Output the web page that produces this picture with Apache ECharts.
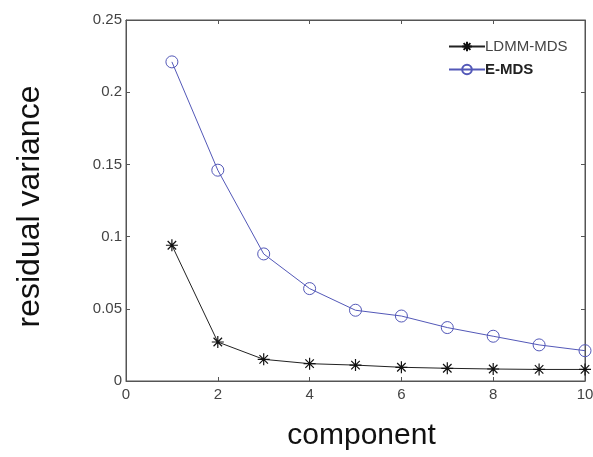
<!DOCTYPE html>
<html>
<head>
<meta charset="utf-8">
<script src="https://cdn.jsdelivr.net/npm/echarts@6/dist/echarts.min.js"></script>
<style>
  html, body { margin: 0; padding: 0; background: #fff; }
  #chart { width: 593px; height: 457px; }
</style>
</head>
<body>
<div id="chart"></div>
<script>
// Residual variance per number of components
const components = [1, 2, 3, 4, 5, 6, 7, 8, 9, 10];
const ldmmMds = [0.094, 0.027, 0.015, 0.012, 0.011, 0.0095, 0.0088, 0.0083, 0.008, 0.008];
const eMds = [0.221, 0.146, 0.088, 0.064, 0.049, 0.045, 0.037, 0.031, 0.025, 0.021];
const xTicks = [0, 2, 4, 6, 8, 10];
const yTicks = [0, 0.05, 0.1, 0.15, 0.2, 0.25];

const FONT = '"Liberation Sans", Arial, Helvetica, sans-serif';
const FRAME = '#555';
const asterisk = 'path://M0,-5L0,5M-5,0L5,0M-3.54,-3.54L3.54,3.54M-3.54,3.54L3.54,-3.54';

const pairs = (ys) => components.map((c, i) => [c, ys[i]]);

const chart = echarts.init(document.getElementById('chart'), null, { renderer: 'canvas' });

const baseAxis = {
  type: 'value',
  axisLine: { show: true, onZero: false, lineStyle: { color: FRAME, width: 1 } },
  axisTick: { show: true, inside: true, length: 4, lineStyle: { color: FRAME } },
  splitLine: { show: false },
};
const xRange = { min: xTicks[0], max: xTicks[xTicks.length - 1], interval: xTicks[1] - xTicks[0] };
const yRange = { min: yTicks[0], max: yTicks[yTicks.length - 1], interval: yTicks[1] - yTicks[0] };

chart.setOption({
  backgroundColor: '#fff',
  animation: false,
  grid: {
    left: 126, right: 8, top: 20, bottom: 76,
    containLabel: false,
    outerBoundsMode: 'none',
    show: true, borderColor: FRAME, borderWidth: 1,
  },
  legend: {
    orient: 'vertical',
    left: 443,
    top: 34,
    itemWidth: 36,
    itemHeight: 12,
    itemGap: 8,
    formatter: (name) => name === 'E-MDS' ? '{b|' + name + '}' : '{n|' + name + '}',
    textStyle: {
      fontFamily: FONT,
      fontSize: 15,
      padding: [0, 0, 0, -5],
      rich: {
        n: { fontFamily: FONT, fontSize: 15, color: '#444' },
        b: { fontFamily: FONT, fontSize: 15, color: '#222', fontWeight: 'bold' },
      },
    },
    data: ['LDMM-MDS', 'E-MDS'],
  },
  xAxis: [
    Object.assign({}, baseAxis, xRange, {
      position: 'bottom',
      name: 'component',
      nameLocation: 'middle',
      nameGap: 40,
      nameTextStyle: { fontFamily: FONT, fontSize: 30, color: '#111', padding: [0, 0, 0, 12] },
      axisLabel: { fontFamily: FONT, fontSize: 15, color: '#444', margin: 6 },
    }),
    Object.assign({}, baseAxis, xRange, {
      position: 'top',
      axisLabel: { show: false },
    }),
  ],
  yAxis: [
    Object.assign({}, baseAxis, yRange, {
      position: 'left',
      name: 'residual variance',
      nameLocation: 'middle',
      nameGap: 80,
      nameTextStyle: { fontFamily: FONT, fontSize: 32, color: '#111', padding: [0, 12, 0, 0] },
      axisLabel: { fontFamily: FONT, fontSize: 15, color: '#444', margin: 4 },
    }),
    Object.assign({}, baseAxis, yRange, {
      position: 'right',
      axisLabel: { show: false },
    }),
  ],
  series: [
    {
      name: 'LDMM-MDS',
      type: 'line',
      xAxisIndex: 0,
      yAxisIndex: 0,
      data: pairs(ldmmMds),
      symbol: asterisk,
      symbolSize: 12,
      lineStyle: { color: '#222', width: 1 },
      itemStyle: { color: 'none', borderColor: '#111', borderWidth: 1.2 },
      z: 3,
    },
    {
      name: 'E-MDS',
      type: 'line',
      xAxisIndex: 0,
      yAxisIndex: 0,
      data: pairs(eMds),
      symbol: 'circle',
      symbolSize: 12,
      lineStyle: { color: '#5358b8', width: 1 },
      itemStyle: { color: 'rgba(255,255,255,0)', borderColor: '#5358b8', borderWidth: 1 },
      z: 2,
    },
    {
      // keeps the mirrored top/right axes active so their ticks are drawn
      name: 'frame',
      type: 'line',
      xAxisIndex: 1,
      yAxisIndex: 1,
      data: [],
      silent: true,
    },
  ],
});
</script>
</body>
</html>
